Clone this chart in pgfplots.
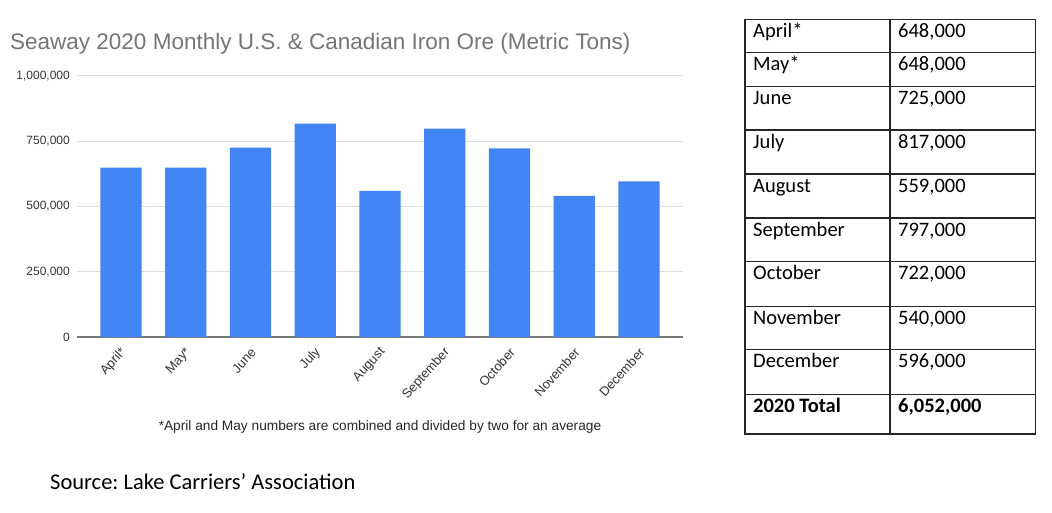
\documentclass[border=0pt]{standalone}
\usepackage{fontspec}
\setmainfont{Liberation Sans}
\newfontfamily\calfont{Carlito}
\usepackage{pgfplots}
\pgfplotsset{compat=1.18}
\definecolor{barblue}{HTML}{4285F4}
\definecolor{titlegray}{HTML}{757575}
\definecolor{gridgray}{HTML}{E0E0E0}
\definecolor{basegray}{HTML}{777777}
\definecolor{labgray}{HTML}{333333}
\frenchspacing
\begin{document}
\begin{tikzpicture}
\useasboundingbox (0pt,0pt) rectangle (1052pt,-512pt);
\begin{axis}[
  at={(77pt,-337pt)}, anchor=south west,
  scale only axis, width=606pt, height=261.3pt,
  xmin=-0.68, xmax=8.68, ymin=0, ymax=1000000,
  axis line style={draw=none},
  major tick length=0pt,
  ymajorgrids, grid style={gridgray, line width=1pt},
  ytick={250000,500000,750000,1000000},
  yticklabels={250{,}000,500{,}000,750{,}000,1{,}000{,}000},
  extra y ticks={0}, extra y tick labels={0},
  extra y tick style={grid style={basegray, line width=1.2pt}},
  yticklabel style={font=\fontsize{12}{14}\selectfont, color=labgray, anchor=east, inner sep=0pt, xshift=-7pt},
  scaled y ticks=false,
  xtick={0,...,8},
  xticklabels={April*,May*,June,July,August,September,October,November,December},
  xticklabel style={font=\fontsize{13}{15}\selectfont, color=labgray, inner sep=0pt, xshift=3pt, yshift=-13pt, rotate=48, anchor=east},
  ybar, bar width=0.64,
  clip=false,
]
\addplot[fill=barblue, draw=none] coordinates {(0,648000) (1,648000) (2,725000) (3,817000) (4,559000) (5,797000) (6,722000) (7,540000) (8,596000)};
\end{axis}
\begin{scope}[x=1pt,y=-1pt]
\node[anchor=base west, inner sep=0pt, text=titlegray, font=\fontsize{22.5}{26}\selectfont] at (10,49) {Seaway 2020 Monthly U.S. \& Canadian Iron Ore (Metric Tons)};
\node[anchor=base, inner sep=0pt, text=black!85, font=\fontsize{13.7}{16}\selectfont] at (380,430) {*April and May numbers are combined and divided by two for an average};
\node[anchor=base west, inner sep=0pt, font=\calfont\fontsize{22.5}{26}\selectfont] at (50,489) {Source: Lake Carriers’ Association};
% table
\draw[line width=1.5pt, black!85] (745,19.3) rectangle (1035.7,434);
\draw[line width=1.5pt, black!85] (890,19.3) -- (890,434);
\foreach \yy in {52.3,86.3,130,174,218,261.7,306.7,349.3,394.3}
  \draw[line width=1.5pt, black!85] (745,\yy) -- (1035.7,\yy);
\foreach \yy/\mm/\vv in {19.3/April*/648{,}000, 52.3/May*/648{,}000, 86.3/June/725{,}000, 130/July/817{,}000, 174/August/559{,}000, 218/September/797{,}000, 261.7/October/722{,}000, 306.7/November/540{,}000, 349.3/December/596{,}000}{
  \node[anchor=base west, inner sep=0pt, font=\calfont\fontsize{20.5}{24}\selectfont] at (753,\yy+18) {\mm};
  \node[anchor=base west, inner sep=0pt, font=\calfont\fontsize{20.5}{24}\selectfont] at (898,\yy+18) {\vv};
}
\node[anchor=base west, inner sep=0pt, font=\calfont\bfseries\fontsize{20.5}{24}\selectfont] at (753,394.3+18) {2020 Total};
\node[anchor=base west, inner sep=0pt, font=\calfont\bfseries\fontsize{20.5}{24}\selectfont] at (898,394.3+18) {6,052,000};
\end{scope}
\end{tikzpicture}
\end{document}
